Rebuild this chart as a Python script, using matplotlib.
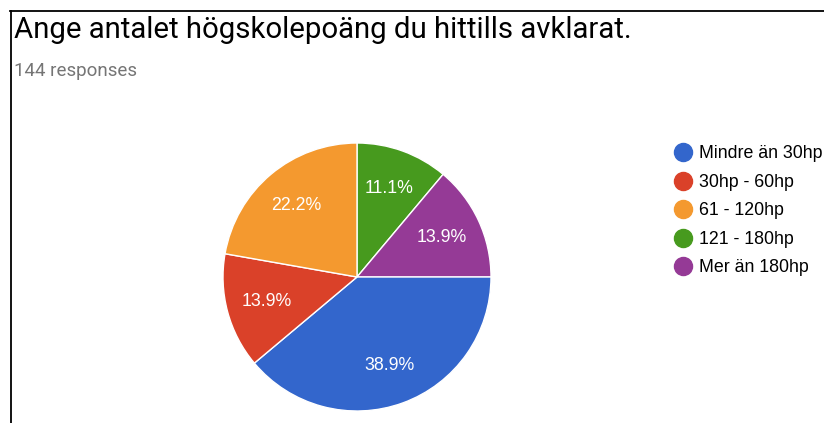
import matplotlib
matplotlib.use("Agg")
import matplotlib.pyplot as plt
from matplotlib.lines import Line2D

W, H = 824, 423

title = "Ange antalet högskolepoäng du hittills avklarat."
subtitle = "144 responses"

# legend order
categories = ["Mindre än 30hp", "30hp - 60hp", "61 - 120hp", "121 - 180hp", "Mer än 180hp"]
counts = [56, 20, 32, 16, 20]
colors = ["#3366cc", "#da4129", "#f4992f", "#479a1e", "#953a96"]

# order drawn clockwise from 12 o'clock
draw_order = [3, 4, 0, 1, 2]

fig = plt.figure(figsize=(W / 100, H / 100), dpi=100)
fig.patch.set_facecolor("white")

def fx(px):
    return px / W

def fy(py):
    return (H - py) / H

# screenshot frame lines
fig.add_artist(Line2D([fx(10), fx(824)], [fy(11), fy(11)], color="black", lw=1.3))
fig.add_artist(Line2D([fx(10.5), fx(10.5)], [fy(11), fy(423)], color="black", lw=1.3))

fig.text(fx(14), fy(37.5), title, fontsize=21.2, family="Roboto", color="#000000", va="baseline")
fig.text(fx(14), fy(76), subtitle, fontsize=13.5, family="Roboto", color="#757575", va="baseline")

# pie
cx, cy, r = 357, 277, 134
ax = fig.add_axes([fx(cx - r), fy(cy + r), 2 * r / W, 2 * r / H])
ax.axis("off")

vals = [counts[i] for i in draw_order]
cols = [colors[i] for i in draw_order]
wedges, texts, autotexts = ax.pie(
    vals, colors=cols, startangle=90, counterclock=False, radius=1,
    autopct="%.1f%%", pctdistance=0.7,
    wedgeprops=dict(edgecolor="white", linewidth=1),
    textprops=dict(color="white", fontsize=12.8, family="Liberation Sans"),
)
ax.set_xlim(-1, 1)
ax.set_ylim(-1, 1)

handles = [Line2D([], [], marker="o", linestyle="", markersize=13,
                  markerfacecolor=c, markeredgecolor=c) for c in colors]
fig.legend(handles, categories, loc="upper left", bbox_to_anchor=(fx(674), fy(145.5)),
           frameon=False, prop=dict(family="Liberation Sans", size=12.8),
           handlelength=1.0, handletextpad=0.4, labelspacing=0.645, borderpad=0,
           borderaxespad=0)

fig.savefig("out.png", dpi=100)
